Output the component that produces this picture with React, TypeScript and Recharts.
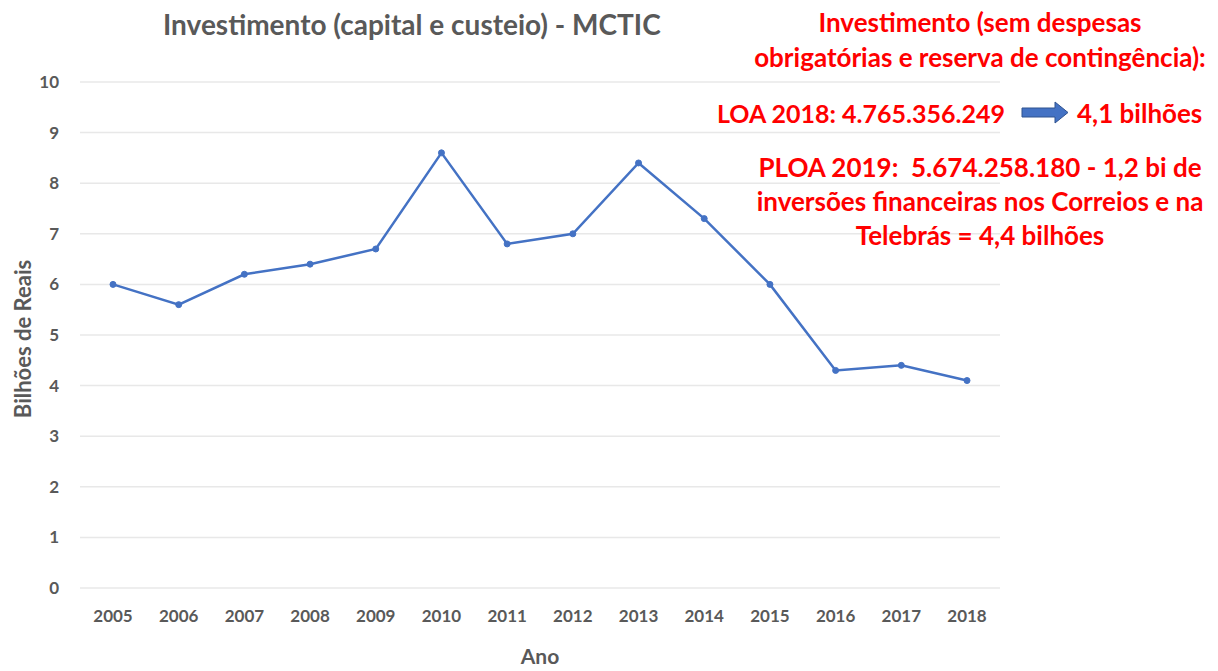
import React from "react";
import { CartesianGrid, Label, Line, LineChart, XAxis, YAxis } from "recharts";

const years = ["2005", "2006", "2007", "2008", "2009", "2010", "2011", "2012", "2013", "2014", "2015", "2016", "2017", "2018"];
const investimento = [6.0, 5.6, 6.2, 6.4, 6.7, 8.6, 6.8, 7.0, 8.4, 7.3, 6.0, 4.3, 4.4, 4.1];
const yTicks = [0, 1, 2, 3, 4, 5, 6, 7, 8, 9, 10];

const data = years.map((ano, i) => ({ ano, valor: investimento[i] }));

const FONT = "Lato, 'Open Sans', sans-serif";
const GRAY = "#595959";
const RED = "#ff0000";

const redLine: React.CSSProperties = {
  position: "absolute",
  color: RED,
  fontFamily: FONT,
  fontWeight: 700,
  fontSize: 26,
  whiteSpace: "nowrap",
  lineHeight: "1",
};

export default function App() {
  return (
    <div style={{ position: "absolute", left: 0, top: 0, width: 1218, height: 671, background: "#fff", fontFamily: FONT }}>
      <LineChart width={1218} height={671} data={data} margin={{ top: 82, right: 218, bottom: 43, left: 40 }}>
        <CartesianGrid horizontal vertical={false} stroke="#e8e8e8" strokeWidth={1.5} />
        <XAxis
          dataKey="ano"
          height={40}
          axisLine={false}
          tickLine={false}
          tickSize={0}
          tickMargin={22}
          padding={{ left: 33, right: 33 }}
          tick={{ fill: GRAY, fontSize: 17, fontWeight: 700, fontFamily: FONT }}
          interval={0}
        >
          <Label value="Ano" position="bottom" offset={21} style={{ fill: GRAY, fontSize: 21, fontWeight: 700, fontFamily: FONT }} />
        </XAxis>
        <YAxis
          domain={[0, 10]}
          ticks={yTicks}
          width={40}
          axisLine={false}
          tickLine={false}
          tickSize={0}
          tickMargin={21}
          tick={{ fill: GRAY, fontSize: 17, fontWeight: 700, fontFamily: FONT }}
        />
        <Line
          type="linear"
          dataKey="valor"
          stroke="#4472c4"
          strokeWidth={2.5}
          dot={{ r: 3, fill: "#4472c4", stroke: "#4472c4", strokeWidth: 1 }}
          isAnimationActive={false}
        />
      </LineChart>

      <svg style={{ position: "absolute", left: 0, top: 0 }} width={60} height={671}>
        <text
          x={22}
          y={339}
          transform="rotate(-90 22 339)"
          textAnchor="middle"
          dominantBaseline="central"
          fill={GRAY}
          fontSize={22}
          fontWeight={700}
          fontFamily={FONT}
        >
          Bilhões de Reais
        </text>
      </svg>

      <div style={{ position: "absolute", left: 163, top: 8, color: GRAY, fontFamily: FONT, fontWeight: 700, fontSize: 28, whiteSpace: "nowrap", lineHeight: "1.2" }}>
        Investimento (capital e custeio) - MCTIC
      </div>

      <div style={{ ...redLine, left: 740, width: 480, textAlign: "center", top: 9 }}>Investimento (sem despesas</div>
      <div style={{ ...redLine, left: 740, width: 480, textAlign: "center", top: 44 }}>obrigatórias e reserva de contingência):</div>
      <div style={{ ...redLine, fontSize: 25, left: 717, top: 101 }}>LOA 2018: 4.765.356.249</div>
      <svg style={{ position: "absolute", left: 1020, top: 100 }} width={52} height={26}>
        <polygon points="2,8 35,8 35,2 48,12.5 35,23 35,17 2,17" fill="#4472c4" stroke="#2f528f" strokeWidth={1} />
      </svg>
      <div style={{ ...redLine, left: 1077, top: 100 }}>4,1 bilhões</div>
      <div style={{ ...redLine, left: 740, width: 480, textAlign: "center", top: 154 }}>PLOA 2019:&nbsp; 5.674.258.180 - 1,2 bi de</div>
      <div style={{ ...redLine, left: 740, width: 480, textAlign: "center", top: 188 }}>inversões financeiras nos Correios e na</div>
      <div style={{ ...redLine, left: 740, width: 480, textAlign: "center", top: 222 }}>Telebrás = 4,4 bilhões</div>
    </div>
  );
}
